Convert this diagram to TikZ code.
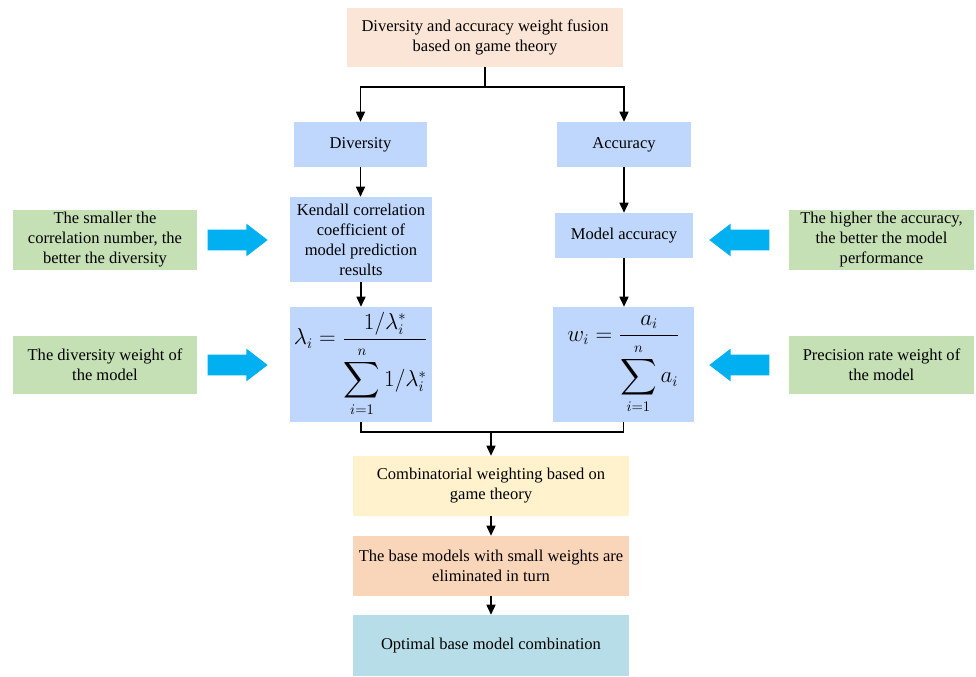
\documentclass[tikz,border=0pt]{standalone}
\usepackage{fontspec}
\setmainfont{Liberation Serif}
\usepackage{amsmath}
\usepackage{exscale}
\usepackage{graphicx}
\usetikzlibrary{arrows.meta}
\usetikzlibrary{shapes.arrows}

\definecolor{peach}{RGB}{251,229,214}
\definecolor{paleblue}{RGB}{191,215,253}
\definecolor{sage}{RGB}{197,224,180}
\definecolor{arrowcyan}{RGB}{0,176,240}
\definecolor{cream}{RGB}{255,242,204}
\definecolor{apricot}{RGB}{249,214,186}
\definecolor{powder}{RGB}{183,222,232}

\newcommand{\bigsum}{\mathop{\vcenter{\hbox{\scalebox{1.1}{$\displaystyle\sum$}}}}\limits}

\tikzset{
  box/.style={rectangle, inner sep=2pt, align=center, font=\fontsize{12.4}{15}\selectfont},
  bluebox/.style={box, fill=paleblue},
  greenbox/.style={box, fill=sage, minimum width=138pt, minimum height=43.5pt},
  widebox/.style={box, minimum width=207pt, minimum height=45pt},
  flow/.style={-{Triangle[length=7.5pt,width=6.75pt]}, line width=1.1pt},
  link/.style={line width=1.1pt},
  blockr/.style={single arrow, fill=arrowcyan, minimum height=45pt, inner xsep=0pt, inner ysep=7.5pt,
    single arrow head extend=4.5pt, single arrow tip angle=75},
  blockl/.style={blockr, shape border rotate=180},
  formula/.style={bluebox, minimum width=106.5pt, minimum height=86.25pt, font=\fontsize{16}{19}\selectfont}
}

\begin{document}
\begin{tikzpicture}[x=0.75pt, y=-0.75pt]
  \useasboundingbox (0,0) rectangle (976,676);

  \node[widebox, fill=peach, minimum height=44.25pt] (fusion) at (485,37.5)
    {Diversity and accuracy weight fusion\\based on game theory};

  \node[bluebox, minimum width=99.75pt, minimum height=33.75pt] (diversity) at (360.5,144.5) {Diversity};
  \node[bluebox, minimum width=100.5pt, minimum height=33.75pt] (accuracy) at (624,144.5) {Accuracy};

  \node[bluebox, minimum width=106.5pt, minimum height=63.75pt] (kendall) at (361,239.5)
    {Kendall correlation\\coefficient of\\model prediction\\results};
  \node[bluebox, minimum width=103.5pt, minimum height=33.75pt] (modelacc) at (624,235.5) {Model accuracy};

  \node[formula] (lambdabox) at (361,364.5)
    {$\displaystyle \lambda_i=\frac{1/\lambda_i^{*}}{\bigsum_{i=1}^{\rule{0pt}{8.5pt}n}1/\lambda_i^{*}}$};
  \node[formula, minimum width=105.75pt] (wbox) at (623.5,364.5)
    {$\displaystyle w_i=\frac{a_i}{\bigsum_{i=1}^{\rule{0pt}{8.5pt}n}a_i}$};

  \node[greenbox] (smaller) at (105,240)
    {The smaller the\\correlation number, the\\better the diversity};
  \node[greenbox] (divweight) at (105,365) {The diversity weight of\\the model};
  \node[greenbox, minimum width=138.75pt] (higher) at (881.5,240)
    {The higher the accuracy,\\the better the model\\performance};
  \node[greenbox, minimum width=138.75pt] (precision) at (881.5,365) {Precision rate weight of\\the model};

  \node[blockr] (hintl1) at (231,240) {};
  \node[blockr] (hintl2) at (231,365) {};
  \node[blockl] (hintr1) at (746,240) {};
  \node[blockl] (hintr2) at (746,365) {};

  \node[widebox, fill=cream] (combine) at (491,486) {Combinatorial weighting based on\\game theory};
  \node[widebox, fill=apricot] (eliminate) at (491,566) {The base models with small weights are\\eliminated in turn};
  \node[widebox, fill=powder, minimum height=45.75pt] (optimal) at (491,645.5) {Optimal base model combination};

  \coordinate (split) at (485,87);
  \coordinate (merge) at (491,432);

  \draw[link] (fusion.south) -- (split);
  \draw[flow] (split) -| (diversity.north);
  \draw[flow] (split) -| (accuracy.north);
  \draw[flow] (diversity.south) -- (diversity.south |- kendall.north);
  \draw[flow] (accuracy.south) -- (accuracy.south |- modelacc.north);
  \draw[flow] (kendall.south) -- (lambdabox.north);
  \draw[flow] (modelacc.south) -- (modelacc.south |- wbox.north);
  \draw[link] (lambdabox.south) |- (merge) -| (wbox.south);
  \draw[flow] (merge) -- (combine.north);
  \draw[flow] (combine.south) -- (eliminate.north);
  \draw[flow] (eliminate.south) -- (optimal.north);
\end{tikzpicture}
\end{document}
